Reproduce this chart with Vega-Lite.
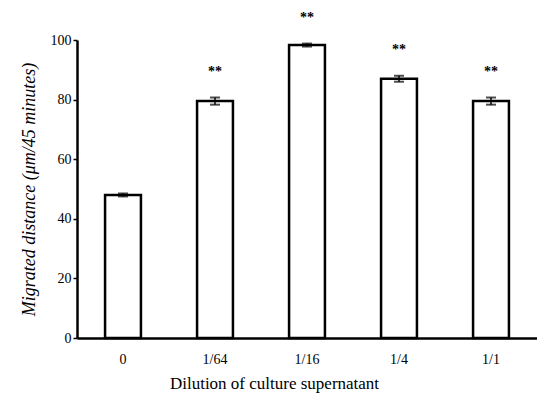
{
  "$schema": "https://vega.github.io/schema/vega-lite/v6.json",
  "width": 460,
  "height": 298,
  "autosize": {"type": "none"},
  "padding": {"left": 77, "top": 40, "right": 0, "bottom": 56},
  "background": "white",
  "config": {
    "view": {"stroke": null},
    "font": "'Liberation Serif', 'Times New Roman', serif",
    "axis": {"grid": false, "domainColor": "black", "domainWidth": 2.5, "tickColor": "black", "labelColor": "black", "titleColor": "black", "labelFont": "'Liberation Serif', 'Times New Roman', serif", "titleFont": "'Liberation Serif', 'Times New Roman', serif"}
  },
  "data": {
    "values": [
      {"dilution": "0", "mean": 48, "err": 0.5, "sig": ""},
      {"dilution": "1/64", "mean": 79.5, "err": 1.2, "sig": "**"},
      {"dilution": "1/16", "mean": 98.3, "err": 0.5, "sig": "**"},
      {"dilution": "1/4", "mean": 87, "err": 1, "sig": "**"},
      {"dilution": "1/1", "mean": 79.5, "err": 1.2, "sig": "**"}
    ]
  },
  "transform": [
    {"calculate": "datum.mean - datum.err", "as": "lo"},
    {"calculate": "datum.mean + datum.err", "as": "hi"}
  ],
  "encoding": {
    "x": {
      "field": "dilution",
      "type": "nominal",
      "sort": null,
      "scale": {"paddingInner": 0.61, "paddingOuter": 0.305},
      "axis": {
        "title": "Dilution of culture supernatant",
        "titleFontSize": 17,
        "titleFontWeight": "normal",
        "titleX": 197,
        "titleY": 45,
        "titleAlign": "center",
        "titleBaseline": "middle",
        "labelAngle": 0,
        "labelFont": "Liberation Serif",
        "labelFontSize": 14,
        "labelPadding": 14,
        "ticks": false
      }
    }
  },
  "layer": [
    {
      "mark": {"type": "bar", "fill": "white", "stroke": "black", "strokeWidth": 2.5},
      "encoding": {
        "y": {
          "field": "mean",
          "type": "quantitative",
          "scale": {"domain": [0, 100], "nice": false},
          "axis": {
            "title": "Migrated distance (μm/45 minutes)",
            "titleFontSize": 18,
            "titleFontStyle": "italic",
            "titleFontWeight": "normal",
            "titlePadding": 12,
            "values": [0, 20, 40, 60, 80, 100],
            "labelFont": "Liberation Serif",
            "labelFontSize": 14,
            "tickSize": 4,
            "tickWidth": 1.5,
            "labelPadding": 2
          }
        }
      }
    },
    {
      "mark": {"type": "rule", "stroke": "black", "strokeWidth": 1.5},
      "encoding": {
        "y": {"field": "lo", "type": "quantitative"},
        "y2": {"field": "hi"}
      }
    },
    {
      "mark": {"type": "tick", "color": "black", "size": 10, "thickness": 2},
      "encoding": {"y": {"field": "lo", "type": "quantitative"}}
    },
    {
      "mark": {"type": "tick", "color": "black", "size": 10, "thickness": 2},
      "encoding": {"y": {"field": "hi", "type": "quantitative"}}
    },
    {
      "mark": {"type": "text", "dy": -26, "fontSize": 14, "fontWeight": "bold", "fill": "black", "baseline": "middle"},
      "encoding": {
        "y": {"field": "hi", "type": "quantitative"},
        "text": {"field": "sig"}
      }
    }
  ]
}
